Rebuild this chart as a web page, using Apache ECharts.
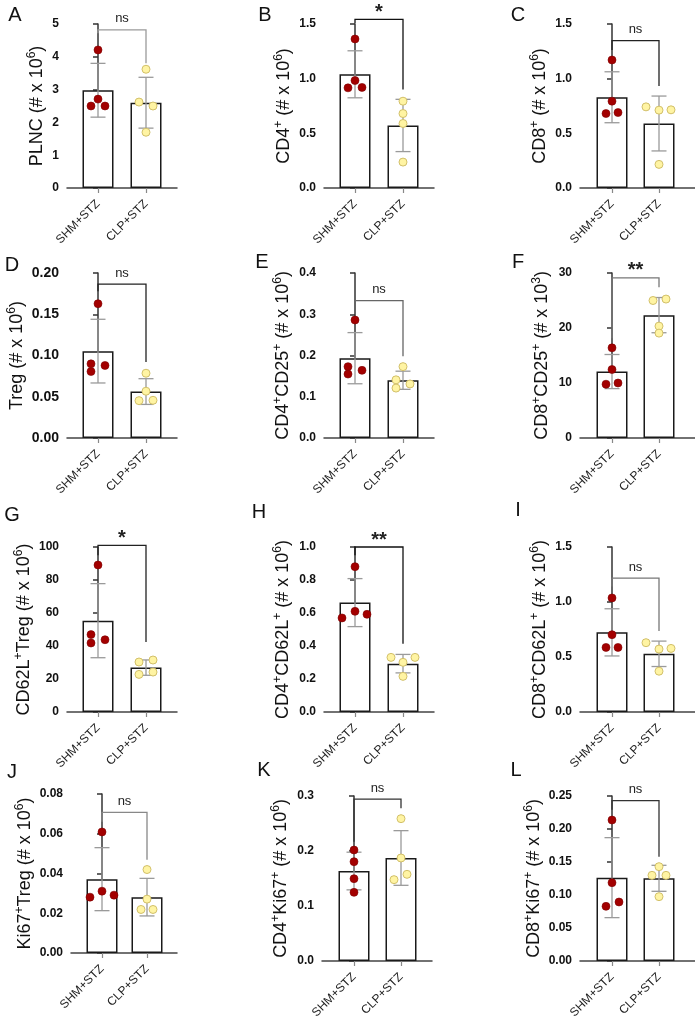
<!DOCTYPE html>
<html>
<head>
<meta charset="utf-8">
<script src="https://cdn.jsdelivr.net/npm/echarts@6/dist/echarts.min.js"></script>
<style>
html, body { margin: 0; padding: 0; background: #fff; }
#main { width: 695px; height: 1023px; }
</style>
</head>
<body>
<div id="main"></div>
<script>
// 组别
var groups = ['SHM+STZ', 'CLP+STZ'];
var panelLetters = ['A', 'B', 'C', 'D', 'E', 'F', 'G', 'H', 'I', 'J', 'K', 'L'];

// y 轴标题 ({s|..} = 上标)
var yTitles = [
    'PLNC (# x 10{s|6})',
    'CD4{s|+} (# x 10{s|6})',
    'CD8{s|+} (# x 10{s|6})',
    'Treg (# x 10{s|6})',
    'CD4{s|+}CD25{s|+} (# x 10{s|6})',
    'CD8{s|+}CD25{s|+} (# x 10{s|3})',
    'CD62L{s|+}Treg (# x 10{s|6})',
    'CD4{s|+}CD62L{s|+} (# x 10{s|6})',
    'CD8{s|+}CD62L{s|+} (# x 10{s|6})',
    'Ki67{s|+}Treg (# x 10{s|6})',
    'CD4{s|+}Ki67{s|+} (# x 10{s|6})',
    'CD8{s|+}Ki67{s|+} (# x 10{s|6})'
];
var yMax = [5, 1.5, 1.5, 0.2, 0.4, 30, 100, 1.0, 1.5, 0.08, 0.3, 0.25];
var yStep = [1, 0.5, 0.5, 0.05, 0.1, 10, 20, 0.2, 0.5, 0.02, 0.1, 0.05];
var yDecimals = [0, 1, 1, 2, 1, 0, 0, 1, 1, 2, 1, 2];

// 各只动物的数值
var shmPoints = [
    [4.21, 2.71, 2.50, 2.50],
    [1.363, 0.983, 0.916, 0.92],
    [1.171, 0.794, 0.681, 0.69],
    [0.1628, 0.0899, 0.0806, 0.0879],
    [0.286, 0.173, 0.155, 0.164],
    [16.39, 12.45, 9.78, 10.0],
    [89.1, 46.9, 41.8, 43.8],
    [0.881, 0.610, 0.570, 0.592],
    [1.037, 0.703, 0.587, 0.587],
    [0.0609, 0.0311, 0.0281, 0.0291],
    [0.2018, 0.1806, 0.1497, 0.1248],
    [0.2136, 0.1187, 0.0828, 0.0894]
];
var clpPoints = [
    [3.62, 2.62, 2.50, 1.70],
    [0.794, 0.681, 0.59, 0.237],
    [0.742, 0.712, 0.715, 0.216],
    [0.0785, 0.0567, 0.0453, 0.0457],
    [0.173, 0.141, 0.131, 0.121],
    [25.0, 25.26, 20.34, 19.07],
    [30.3, 31.5, 22.8, 24.2],
    [0.331, 0.331, 0.301, 0.216],
    [0.63, 0.572, 0.578, 0.371],
    [0.042, 0.0271, 0.0219, 0.0219],
    [0.2588, 0.1873, 0.1479, 0.1576],
    [0.1429, 0.1298, 0.1298, 0.0975]
];
// 柱高 (均值) 与 SD
var barMeans = [
    [2.98, 2.60], [1.04, 0.572], [0.83, 0.59], [0.1053, 0.0563],
    [0.1935, 0.140], [12.08, 22.34], [55.35, 26.9], [0.663, 0.293],
    [0.724, 0.529], [0.03715, 0.0281], [0.1636, 0.1873], [0.1263, 0.1253]
];
var barSd = [
    [0.82, 0.775], [0.215, 0.239], [0.233, 0.251], [0.0386, 0.0156],
    [0.062, 0.022], [3.1, 3.2], [22.45, 4.65], [0.1455, 0.056],
    [0.2145, 0.1155], [0.01585, 0.00945], [0.03425, 0.0497], [0.0606, 0.0197]
];
// 显著性括号: [顶部, 左端, 右端]
var brackets = [
    [4.82, 4.72, 3.80], [1.542, 1.506, 0.90], [1.348, 1.263, 0.934], [0.1866, 0.178, 0.092],
    [0.333, 0.311, 0.198], [29.1, 18.15, 27.4], [101, 95, 42.4], [1.0, 0.95, 0.414],
    [1.217, 1.14, 0.736], [0.0708, 0.066, 0.0469], [0.2945, 0.217, 0.2776], [0.243, 0.229, 0.158]
];
var sigLabels = ['ns', '*', 'ns', 'ns', 'ns', '**', '*', '**', 'ns', 'ns', 'ns', 'ns'];

// 版面 (像素): y轴位置, 轴末端, 两柱中心, 顶部刻度, 零点, 标题间距, 字母位置, 抖动
var layout = [
    {yx: 67, end: 177, b1: 98, b2: 146, top: 24, zero: 188, gap: 19, lx: 15, ly: 15, bc: '#9a9a9a',
        js: [0, 0, -7, 7], jc: [0, -7, 7, 0]},
    {yx: 324, end: 434, b1: 355, b2: 403, top: 24, zero: 188, gap: 29, lx: 265, ly: 15, bc: '#111',
        js: [0, 0, -7, 7], jc: [0, 0, 0, 0]},
    {yx: 580, end: 695, b1: 612, b2: 659, top: 24, zero: 188, gap: 29, lx: 518, ly: 15, bc: '#222',
        js: [0, 0, -6, 6], jc: [-13, 0, 12, 0]},
    {yx: 67, end: 177, b1: 98, b2: 146, top: 273, zero: 438, gap: 35, lx: 12, ly: 265, bc: '#222',
        js: [0, -7, -7, 7], jc: [0, 0, -7, 7], tf: 14},
    {yx: 324, end: 434, b1: 355, b2: 403, top: 273, zero: 438, gap: 30, lx: 262, ly: 262, bc: '#666',
        js: [0, -7, -7, 7], jc: [0, -7, 7, -7]},
    {yx: 580, end: 695, b1: 612, b2: 659, top: 273, zero: 438, gap: 27, lx: 518, ly: 262, bc: '#777',
        js: [0, 0, -6, 6], jc: [-6, 7, 0, 0]},
    {yx: 67, end: 177, b1: 98, b2: 146, top: 547, zero: 712, gap: 32, lx: 12, ly: 515, bc: '#222',
        js: [0, -7, -7, 7], jc: [-7, 7, -7, 7]},
    {yx: 324, end: 434, b1: 355, b2: 403, top: 547, zero: 712, gap: 30, lx: 259, ly: 512, bc: '#111',
        js: [0, 0, -13, 12], jc: [-12, 12, 0, 0]},
    {yx: 580, end: 695, b1: 612, b2: 659, top: 547, zero: 712, gap: 29, lx: 518, ly: 510, bc: '#777',
        js: [0, 0, -6, 6], jc: [-13, 0, 12, 0]},
    {yx: 71, end: 177, b1: 102, b2: 147, top: 794, zero: 953, gap: 33, lx: 12, ly: 772, bc: '#888',
        js: [0, 0, -12, 12], jc: [0, 0, -6, 6]},
    {yx: 322, end: 432, b1: 354, b2: 401, top: 796, zero: 961, gap: 30, lx: 264, ly: 770, bc: '#333',
        js: [0, 0, 0, 0], jc: [0, 0, -7, 6]},
    {yx: 580, end: 695, b1: 612, b2: 659, top: 796, zero: 961, gap: 34, lx: 516, ly: 770, bc: '#333',
        js: [0, 0, -6, 7], jc: [0, -7, 7, 0]}
];

var FONT = 'Liberation Sans, Arial, sans-serif';
var grids = [], xAxes = [], yAxes = [], series = [], graphics = [];

for (var i = 0; i < layout.length; i++) {
    var L = layout[i];
    var u = L.b2 - L.b1;
    grids.push({
        left: L.yx, top: L.top, width: L.end - L.yx, height: L.zero - L.top,
        outerBoundsMode: 'none'
    });
    xAxes.push({
        type: 'value', gridIndex: i,
        min: (L.yx - L.b1) / u, max: 1 + (L.end - L.b2) / u,
        splitLine: {show: false},
        axisLine: {lineStyle: {color: '#444', width: 1.5}},
        axisTick: {customValues: [0, 1], length: 5, lineStyle: {color: '#888', width: 1.2}},
        axisLabel: {
            customValues: [0, 1], rotate: 45, margin: 14,
            fontSize: 12, color: '#222', fontFamily: FONT,
            formatter: function (v) { return groups[Math.round(v)]; }
        }
    });
    yAxes.push({
        type: 'value', gridIndex: i, min: 0, max: yMax[i], interval: yStep[i],
        name: yTitles[i], nameLocation: 'middle', nameRotate: 90, nameGap: L.gap,
        nameTextStyle: {
            fontSize: 18, color: '#111', fontFamily: FONT, lineHeight: 22,
            rich: {s: {fontSize: 12, color: '#111', fontFamily: FONT, verticalAlign: 'top', lineHeight: 10}}
        },
        splitLine: {show: false},
        axisLine: {show: true, lineStyle: {color: '#333', width: 1.5}},
        axisTick: {show: true, length: 5, lineStyle: {color: '#333', width: 1.5}},
        axisLabel: {
            fontSize: L.tf || 12, fontWeight: 'bold', color: '#111', fontFamily: FONT, margin: 8,
            formatter: (function (d) { return function (v) { return v.toFixed(d); }; })(yDecimals[i])
        }
    });

    // 柱子
    series.push({
        type: 'bar', xAxisIndex: i, yAxisIndex: i, barWidth: 31, silent: true, z: 1,
        data: [[0, barMeans[i][0]], [1, barMeans[i][1]]],
        itemStyle: {color: '#fff', borderColor: '#1a1a1a', borderWidth: 1.5}
    });
    // 误差线 (SD)
    series.push({
        type: 'custom', xAxisIndex: i, yAxisIndex: i, silent: true, z: 3,
        data: [[0, barMeans[i][0], barSd[i][0]], [1, barMeans[i][1], barSd[i][1]]],
        renderItem: function (params, api) {
            var x = api.value(0), m = api.value(1), s = api.value(2);
            var hi = api.coord([x, m + s]), lo = api.coord([x, m - s]);
            var c = 7.5, st = {stroke: '#9a9a9a', lineWidth: 1.3};
            return {type: 'group', children: [
                {type: 'line', shape: {x1: hi[0], y1: hi[1], x2: lo[0], y2: lo[1]}, style: st},
                {type: 'line', shape: {x1: hi[0] - c, y1: hi[1], x2: hi[0] + c, y2: hi[1]}, style: st},
                {type: 'line', shape: {x1: lo[0] - c, y1: lo[1], x2: lo[0] + c, y2: lo[1]}, style: st}
            ]};
        }
    });
    // 各点
    series.push({
        type: 'scatter', xAxisIndex: i, yAxisIndex: i, symbolSize: 8, silent: true, z: 5,
        data: shmPoints[i].map(function (v, k) { return {value: [0, v], symbolOffset: [this.js[k], 0]}; }, L),
        itemStyle: {color: '#a30000', borderColor: '#7d0000', borderWidth: 0.6, opacity: 1}
    });
    series.push({
        type: 'scatter', xAxisIndex: i, yAxisIndex: i, symbolSize: 8, silent: true, z: 5,
        data: clpPoints[i].map(function (v, k) { return {value: [1, v], symbolOffset: [this.jc[k], 0]}; }, L),
        itemStyle: {color: '#fff4a3', borderColor: '#d2c06a', borderWidth: 1, opacity: 1}
    });
    // 显著性括号
    series.push({
        type: 'custom', xAxisIndex: i, yAxisIndex: i, silent: true, z: 4,
        data: [[0.5, brackets[i][0], brackets[i][1], brackets[i][2]]],
        renderItem: (function (sig, color) {
            return function (params, api) {
                var t = api.value(1), l = api.value(2), r = api.value(3);
                var p0 = api.coord([0, l]), p1 = api.coord([0, t]);
                var p2 = api.coord([1, t]), p3 = api.coord([1, r]);
                var star = sig.indexOf('*') >= 0;
                return {type: 'group', children: [
                    {type: 'polyline', shape: {points: [p0, p1, p2, p3]},
                        style: {stroke: color, lineWidth: 1.3, fill: null}},
                    {type: 'text', x: (p1[0] + p2[0]) / 2, y: p1[1] + (star ? 3 : -11),
                        style: {text: sig, fill: '#222', textAlign: 'center',
                            textVerticalAlign: star ? 'bottom' : 'middle',
                            font: (star ? 'bold 20px ' : '13px ') + FONT}}
                ]};
            };
        })(sigLabels[i], L.bc)
    });

    graphics.push({
        type: 'text', x: L.lx, y: L.ly, silent: true,
        style: {text: panelLetters[i], fill: '#111', font: '20px ' + FONT,
            textAlign: 'center', textVerticalAlign: 'middle'}
    });
}

var chart = echarts.init(document.getElementById('main'));
chart.setOption({
    animation: false,
    backgroundColor: '#fff',
    grid: grids,
    xAxis: xAxes,
    yAxis: yAxes,
    series: series,
    graphic: graphics
});
</script>
</body>
</html>
